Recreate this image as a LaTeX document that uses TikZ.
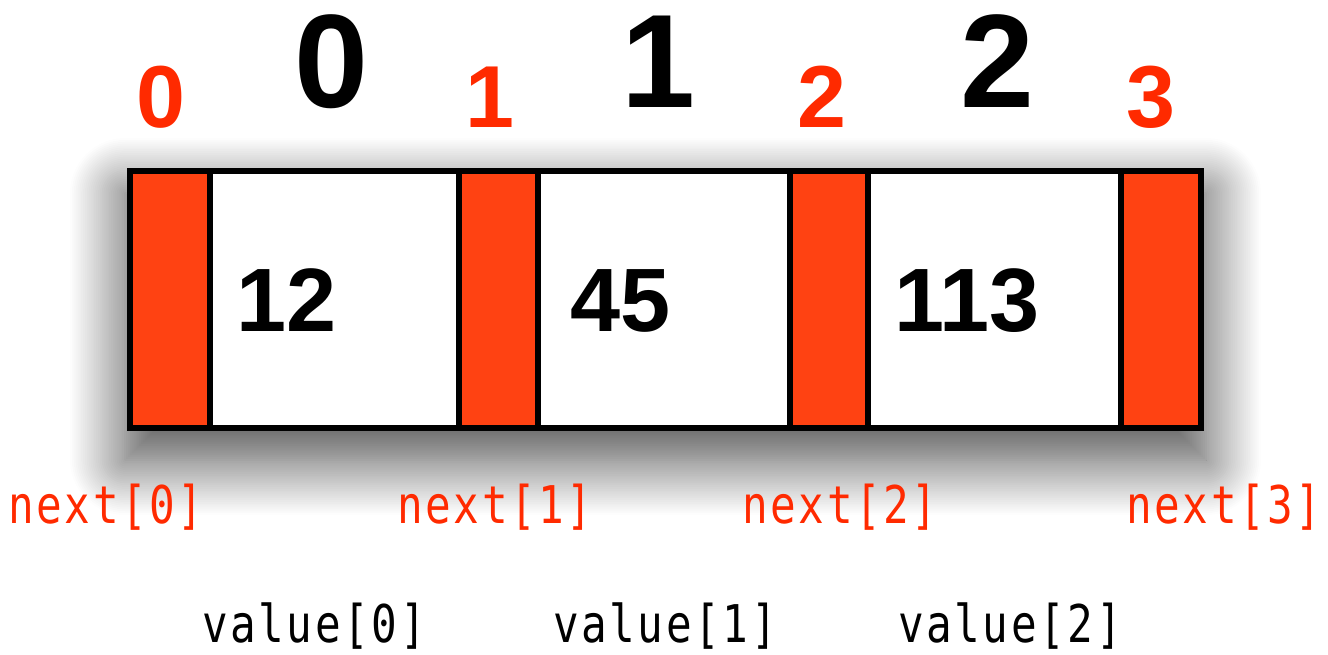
\documentclass[tikz,border=0pt]{standalone}
\usepackage{fontspec}
\setmainfont{Liberation Sans}
\newfontfamily\codefont{DejaVu Sans Mono}[FakeStretch=0.82, LetterSpace=5]
\usepackage{tikz}
\usetikzlibrary{shadows.blur}
\definecolor{nextred}{RGB}{255,66,18}
\definecolor{labelred}{RGB}{255,42,0}

\begin{document}
\begin{tikzpicture}[x=1pt, y=-1pt,
    nextcell/.style={rectangle, draw, line width=6pt, fill=nextred, minimum height=257pt, inner sep=0pt},
    valcell/.style={rectangle, draw, line width=6pt, fill=white, minimum height=257pt, inner sep=0pt},
    idx/.style={font=\fontsize{88}{88}\selectfont\bfseries, text=labelred, anchor=base, inner sep=0pt},
    slotnum/.style={font=\fontsize{133}{133}\selectfont\bfseries, anchor=base, inner sep=0pt},
    num/.style={font=\fontsize{90}{90}\selectfont\bfseries, anchor=base west, inner sep=0pt},
    ptr/.style={font=\fontsize{52}{52}\selectfont\codefont, text=labelred, anchor=base, inner sep=0pt},
    val/.style={font=\fontsize{52}{52}\selectfont\codefont, anchor=base, inner sep=0pt}]

    \useasboundingbox (0,0) rectangle (1328,654);

    % soft shadow under the whole array
    \path[blur shadow={shadow xshift=0pt, shadow yshift=-27pt,
        shadow blur radius=55pt, shadow opacity=72, shadow blur steps=30}]
        (125,166) rectangle (1206,433);

    % value slots
    \foreach \a/\b [count=\i from 0] in {210/459, 538/790, 868/1121}
        \node[valcell, minimum width=\b-\a] (value\i) at ({(\a+\b)/2},299.5) {};

    % next slots
    \foreach \a/\b [count=\i from 0] in {130/210, 459/538, 790/868, 1121/1201}
        \node[nextcell, minimum width=\b-\a] (next\i) at ({(\a+\b)/2},299.5) {};

    \draw[line width=6pt, line join=round] (130,171) rectangle (1201,428);

    % stored values
    \node[num] (v0) at (236,331) {12};
    \node[num] (v1) at (570,331) {45};
    \node[num] (v2) at (894,331) {113};

    % next indices and slot numbers on top
    \node[idx] (i0) at (161,127) {0};
    \node[idx] (i1) at (490,127) {1};
    \node[idx] (i2) at (822,127) {2};
    \node[idx] (i3) at (1151,127) {3};
    \node[slotnum] (s0) at (331,107) {0};
    \node[slotnum] (s1) at (658,107) {1};
    \node[slotnum] (s2) at (997,107) {2};

    % array names below
    \node[ptr] (p0) at (106,523) {next[0]};
    \node[ptr] (p1) at (495,523) {next[1]};
    \node[ptr] (p2) at (840,523) {next[2]};
    \node[ptr] (p3) at (1224,523) {next[3]};
    \node[val] (w0) at (314,642) {value[0]};
    \node[val] (w1) at (665,642) {value[1]};
    \node[val] (w2) at (1010,642) {value[2]};
\end{tikzpicture}
\end{document}
